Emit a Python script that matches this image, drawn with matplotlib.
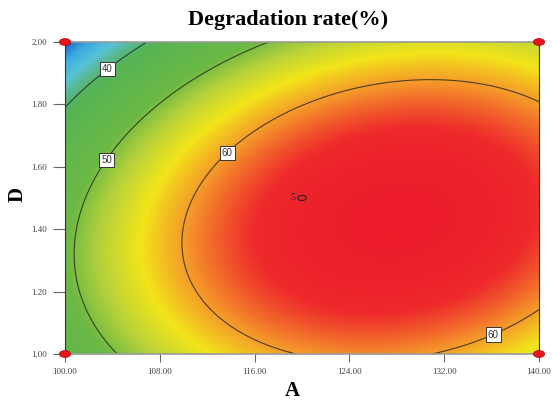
import numpy as np
import matplotlib
matplotlib.use("Agg")
import matplotlib.pyplot as plt
from matplotlib.colors import LinearSegmentedColormap
from matplotlib.patches import Ellipse

# Factor ranges
a_range = [100.0, 140.0]
d_range = [1.00, 2.00]

# Quadratic model in coded units: b0, A, D, AD, A^2, D^2
coef_names = ["b0", "A", "D", "AD", "A2", "D2"]
coef_values = [65.98, 8.39, -4.15, 3.17, -9.96, -10.00]

contour_levels = [40, 50, 60]
x_ticks = [100.00, 108.00, 116.00, 124.00, 132.00, 140.00]
y_ticks = [1.00, 1.20, 1.40, 1.60, 1.80, 2.00]

center_point = (120.0, 1.50)
center_reps = "5"

def response(A, D):
    a = (A - 120.0) / 20.0
    d = (D - 1.5) / 0.5
    b = dict(zip(coef_names, coef_values))
    return (b["b0"] + b["A"] * a + b["D"] * d + b["AD"] * a * d
            + b["A2"] * a ** 2 + b["D2"] * d ** 2)

cmap = LinearSegmentedColormap.from_list("de", [
    (0.00, "#1b3f98"),
    (0.03, "#2a78cc"),
    (0.08, "#3aaae2"),
    (0.16, "#58c2d8"),
    (0.22, "#58b890"),
    (0.28, "#55b455"),
    (0.50, "#6cb945"),
    (0.60, "#b8d23a"),
    (0.70, "#f2e51a"),
    (0.80, "#f5962a"),
    (0.91, "#ee2a2c"),
    (1.00, "#ec1c2a"),
])

A = np.linspace(a_range[0], a_range[1], 400)
D = np.linspace(d_range[0], d_range[1], 400)
AA, DD = np.meshgrid(A, D)
Y = response(AA, DD)

fig = plt.figure(figsize=(5.53, 4.08), dpi=100)
ax = fig.add_axes([65 / 553, 1 - 354 / 408, 474 / 553, 312 / 408])

ax.imshow(Y, origin="lower", extent=[*a_range, *d_range], aspect="auto",
          cmap=cmap, vmin=Y.min(), vmax=Y.max(), interpolation="bilinear")

cs = ax.contour(AA, DD, Y, levels=contour_levels, colors="#1a1a1a",
                linewidths=0.8, alpha=0.75)
labels = ax.clabel(cs, fmt="%d", fontsize=7, inline=False,
                   manual=[(103.4, 1.923), (103.2, 1.631), (113.4, 1.657),
                           (135.9, 1.083)])
for t in labels:
    t.set_rotation(0)
    t.set_family("Liberation Sans")
    t.set_color("#333333")
    t.set_zorder(7)
    t.set_bbox(dict(facecolor="white", edgecolor="#333333", pad=1.5,
                    linewidth=0.7))

# Design center point with its replicate count
ax.add_patch(Ellipse(center_point, width=0.7, height=0.016, fill=False,
                     edgecolor="#222222", linewidth=0.8, zorder=5))
ax.text(center_point[0] - 0.55, center_point[1] + 0.003, center_reps,
        fontsize=7, family="Liberation Serif", ha="right", va="center",
        color="#222222")

# Corner design points
for ca in a_range:
    for cd in d_range:
        ax.add_patch(Ellipse((ca, cd), width=0.95, height=0.022,
                             facecolor="#e8161c", edgecolor="#b00000",
                             linewidth=0.5, clip_on=False, zorder=6))

ax.set_xlim(*a_range)
ax.set_ylim(*d_range)
ax.set_xticks(x_ticks)
ax.set_yticks(y_ticks)
ax.set_xticklabels([f"{v:.2f}" for v in x_ticks])
ax.set_yticklabels([f"{v:.2f}" for v in y_ticks])
ax.tick_params(axis="both", direction="out", width=0.8, color="#666666",
               labelsize=6.5, labelcolor="#444444")
ax.tick_params(axis="x", length=6, pad=4)
ax.tick_params(axis="y", length=9, pad=4)
for t in ax.get_xticklabels() + ax.get_yticklabels():
    t.set_family("Liberation Serif")

for side in ["left", "right"]:
    ax.spines[side].set_color("#333333")
    ax.spines[side].set_linewidth(0.8)
for side in ["top", "bottom"]:
    ax.spines[side].set_color("#999999")
    ax.spines[side].set_linewidth(1.2)

fig.text(292 / 553, 1 - 391 / 408, "A", fontsize=15, fontweight="bold",
         family="Liberation Serif", ha="center", va="center")
fig.text(18 / 553, 1 - 194 / 408, "D", fontsize=15, fontweight="bold",
         family="Liberation Serif", ha="center", va="center", rotation=90)
fig.text(288 / 553, 1 - 20 / 408, "Degradation rate(%)", fontsize=16,
         fontweight="bold", family="Liberation Serif", ha="center",
         va="center")

fig.savefig("out.png", dpi=100)
